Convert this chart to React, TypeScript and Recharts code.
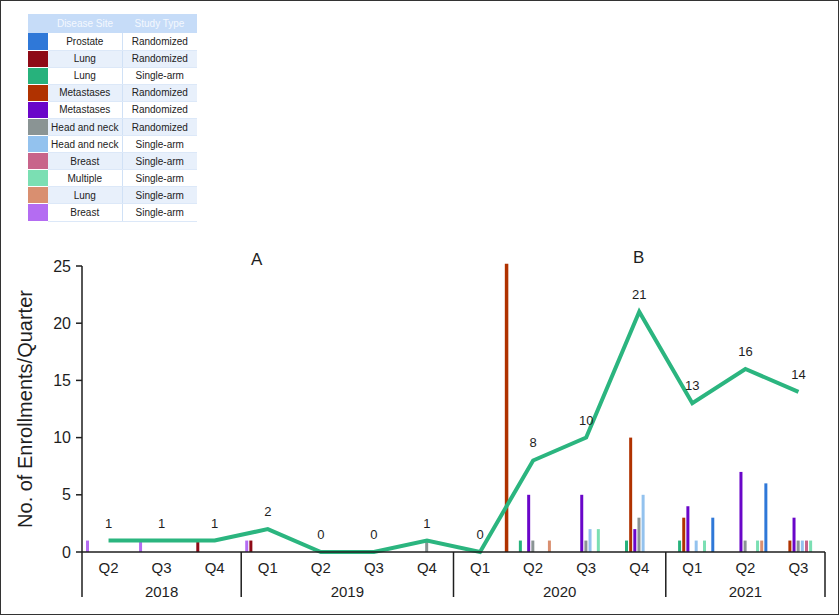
import { Bar, ComposedChart, LabelList, Line, ReferenceLine, XAxis, YAxis } from "recharts";

// quarters on the x axis, Q2 2018 .. Q3 2021
const quarters = ["Q2", "Q3", "Q4", "Q1", "Q2", "Q3", "Q4", "Q1", "Q2", "Q3", "Q4", "Q1", "Q2", "Q3"];
const years = ["2018", "2019", "2020", "2021"];
const quartersPerYear = [3, 4, 4, 3];

// total enrollments per quarter (line)
const totalEnrollments = [1, 1, 1, 2, 0, 0, 1, 0, 8, 10, 21, 13, 16, 14];

// per-trial enrollments, in the order the bars sit inside each quarter
const breastSingleArmB = [1, 1, 0, 1, 0, 0, 0, 0, 0, 0, 0, 0, 0, 0];
const lungRandomized = [0, 0, 1, 1, 0, 0, 0, 0, 0, 0, 0, 0, 0, 0];
const lungSingleArmA = [0, 0, 0, 0, 0, 0, 0, 0, 1, 0, 1, 1, 0, 0];
const metastasesRandomizedA = [0, 0, 0, 0, 0, 0, 0, 0, 0, 0, 10, 3, 0, 1];
const metastasesRandomizedB = [0, 0, 0, 0, 0, 0, 0, 0, 5, 5, 2, 4, 7, 3];
const headNeckRandomized = [0, 0, 0, 0, 0, 0, 1, 0, 1, 1, 3, 0, 1, 1];
const headNeckSingleArm = [0, 0, 0, 0, 0, 0, 0, 0, 0, 2, 5, 1, 0, 1];
const breastSingleArmA = [0, 0, 0, 0, 0, 0, 0, 0, 0, 0, 0, 0, 0, 1];
const multipleSingleArm = [0, 0, 0, 0, 0, 0, 0, 0, 0, 2, 0, 1, 1, 1];
const lungSingleArmB = [0, 0, 0, 0, 0, 0, 0, 0, 1, 0, 0, 0, 1, 0];
const prostateRandomized = [0, 0, 0, 0, 0, 0, 0, 0, 0, 0, 0, 3, 6, 0];

// the tall metastases bar drawn between Q1 and Q2 2020
const spikeAt = 8;
const spikeValue = 25.2;

const colors: Record<string, string> = {
  prostateRandomized: "#2f78d8",
  lungRandomized: "#8e0a16",
  lungSingleArmA: "#27b27c",
  metastasesRandomizedA: "#b03200",
  metastasesRandomizedB: "#6a06c9",
  headNeckRandomized: "#8a9494",
  headNeckSingleArm: "#93c2ee",
  breastSingleArmA: "#c8648a",
  multipleSingleArm: "#7bdfb3",
  lungSingleArmB: "#d98f70",
  breastSingleArmB: "#b46cf2",
};

const barOrder: [string, number[]][] = [
  ["breastSingleArmB", breastSingleArmB],
  ["lungRandomized", lungRandomized],
  ["lungSingleArmA", lungSingleArmA],
  ["metastasesRandomizedA", metastasesRandomizedA],
  ["metastasesRandomizedB", metastasesRandomizedB],
  ["headNeckRandomized", headNeckRandomized],
  ["headNeckSingleArm", headNeckSingleArm],
  ["breastSingleArmA", breastSingleArmA],
  ["multipleSingleArm", multipleSingleArm],
  ["lungSingleArmB", lungSingleArmB],
  ["prostateRandomized", prostateRandomized],
];

const legendKeys = [
  "prostateRandomized",
  "lungRandomized",
  "lungSingleArmA",
  "metastasesRandomizedA",
  "metastasesRandomizedB",
  "headNeckRandomized",
  "headNeckSingleArm",
  "breastSingleArmA",
  "multipleSingleArm",
  "lungSingleArmB",
  "breastSingleArmB",
];
const legendSites = ["Prostate", "Lung", "Lung", "Metastases", "Metastases", "Head and neck", "Head and neck", "Breast", "Multiple", "Lung", "Breast"];
const legendTypes = ["Randomized", "Randomized", "Single-arm", "Randomized", "Randomized", "Randomized", "Single-arm", "Single-arm", "Single-arm", "Single-arm", "Single-arm"];

const INK = "#1e1e1e";

// quarter label plus, at the first quarter of each year, the year label and the group separators
function QuarterTick(props: any) {
  const { x, y, payload } = props;
  const i = payload?.index ?? 0;
  const half = payload?.offset || 26.5;
  const starts = quartersPerYear.map((_, k) => quartersPerYear.slice(0, k).reduce((a, b) => a + b, 0));
  const g = starts.indexOf(i);
  const last = i === quarters.length - 1;
  return (
    <g>
      <text x={x} y={y + 21} textAnchor="middle" fontSize={15} fill={INK}>
        {quarters[i]}
      </text>
      {g >= 0 && (
        <>
          <line x1={x - half} x2={x - half} y1={y} y2={y + 45} stroke={INK} strokeWidth={1.5} />
          <text x={x - half + quartersPerYear[g] * half} y={y + 45} textAnchor="middle" fontSize={15} fill={INK}>
            {years[g]}
          </text>
        </>
      )}
      {last && <line x1={x + half} x2={x + half} y1={y} y2={y + 45} stroke={INK} strokeWidth={1.5} />}
    </g>
  );
}

export default function App() {
  const data = quarters.map((q, i) => {
    const row: Record<string, any> = { quarter: q, pos: i + 0.5, total: totalEnrollments[i] };
    barOrder.forEach(([k, v]) => (row[k] = v[i]));
    return row;
  });

  return (
    <div
      style={{
        position: "absolute",
        left: 0,
        top: 0,
        width: 839,
        height: 615,
        background: "#fff",
        fontFamily: "'Liberation Sans', Arial, sans-serif",
        overflow: "hidden",
      }}
    >
      <table
        style={{
          position: "absolute",
          left: 28,
          top: 14,
          width: 169,
          borderCollapse: "collapse",
          tableLayout: "fixed",
          fontSize: 10,
          color: "#222",
        }}
      >
        <colgroup>
          <col style={{ width: 20 }} />
          <col style={{ width: 74 }} />
          <col style={{ width: 75 }} />
        </colgroup>
        <thead>
          <tr style={{ height: 19, background: "#c6dcf8", color: "#f4f8fe" }}>
            <th />
            <th style={{ fontWeight: 400 }}>Disease Site</th>
            <th style={{ fontWeight: 400 }}>Study Type</th>
          </tr>
        </thead>
        <tbody>
          {legendKeys.map((k, i) => (
            <tr key={k} style={{ height: 17.1, background: i % 2 ? "#e8f0fb" : "#fff" }}>
              <td style={{ background: colors[k], padding: 0, borderBottom: "1px solid #fff" }} />
              <td style={{ textAlign: "center", padding: 0, borderBottom: "1px solid #dce8f8" }}>{legendSites[i]}</td>
              <td
                style={{
                  textAlign: "center",
                  padding: 0,
                  borderBottom: "1px solid #dce8f8",
                  borderLeft: "1px solid #d0e1f6",
                }}
              >
                {legendTypes[i]}
              </td>
            </tr>
          ))}
        </tbody>
      </table>

      <div style={{ position: "absolute", left: 251, top: 250, fontSize: 17, color: INK }}>A</div>
      <div style={{ position: "absolute", left: 633, top: 248, fontSize: 17, color: INK }}>B</div>

      <div style={{ position: "absolute", left: 0, top: 0 }}>
        <ComposedChart
          width={839}
          height={615}
          data={data}
          margin={{ top: 266, right: 14, bottom: 9, left: 0 }}
          barSize={3}
          barGap={1.15}
        >
          <XAxis
            xAxisId="q"
            dataKey="quarter"
            interval={0}
            tickLine={false}
            tickSize={0}
            tickMargin={0}
            height={54}
            axisLine={{ stroke: INK, strokeWidth: 1.5 }}
            tick={<QuarterTick />}
          />
          <XAxis
            xAxisId="n"
            orientation="top"
            type="number"
            dataKey="pos"
            domain={[0, 14]}
            height={0}
            hide
            allowDataOverflow
          />
          <YAxis
            domain={[0, 25]}
            ticks={[0, 5, 10, 15, 20, 25]}
            width={82}
            tickMargin={5}
            axisLine={{ stroke: INK, strokeWidth: 1.5 }}
            tickLine={{ stroke: INK, strokeWidth: 1.5 }}
            tick={{ fontSize: 16, fill: INK }}
            label={{
              value: "No. of Enrollments/Quarter",
              angle: -90,
              position: "insideLeft",
              offset: 25,
              style: { textAnchor: "middle", fontSize: 20, fill: INK },
            }}
          />
          {barOrder.map(([k]) => (
            <Bar key={k} xAxisId="q" dataKey={k} fill={colors[k]} isAnimationActive={false} />
          ))}
          <ReferenceLine
            xAxisId="n"
            segment={[
              { x: spikeAt, y: 0 },
              { x: spikeAt, y: spikeValue },
            ]}
            stroke={colors.metastasesRandomizedA}
            strokeWidth={3.5}
            ifOverflow="visible"
          />
          <Line
            xAxisId="q"
            type="linear"
            dataKey="total"
            stroke="#2bb57f"
            strokeWidth={4}
            dot={false}
            isAnimationActive={false}
          >
            <LabelList dataKey="total" position="top" offset={13} fontSize={13} fill={INK} />
          </Line>
        </ComposedChart>
      </div>

      <div
        style={{
          position: "absolute",
          inset: 0,
          border: "1px solid #333",
          pointerEvents: "none",
        }}
      />
    </div>
  );
}
